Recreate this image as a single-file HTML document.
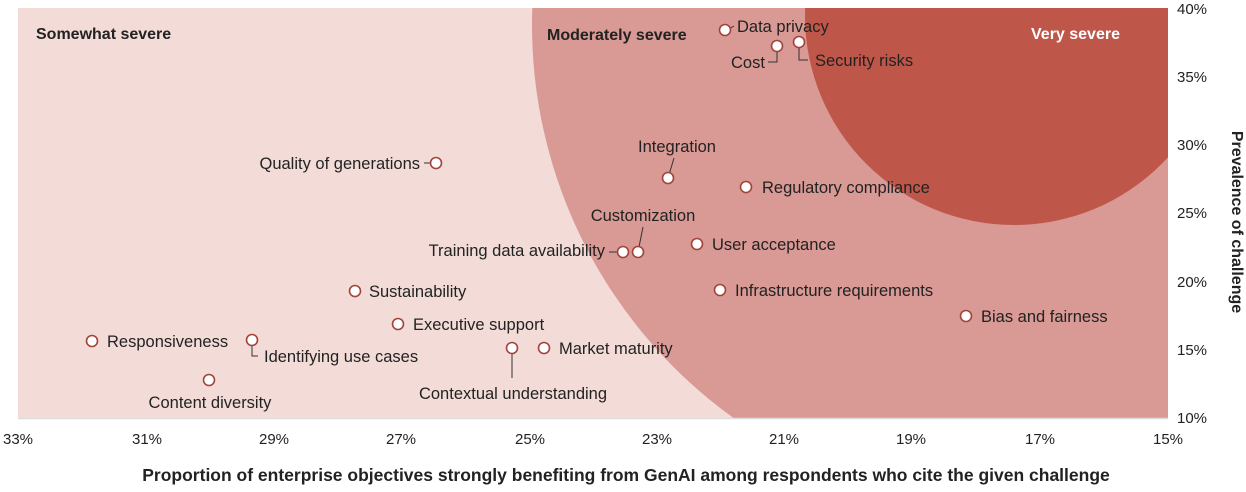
<!DOCTYPE html>
<html><head><style>
body{margin:0;background:#fff;}
svg text{font-family:"Liberation Sans",Arial,sans-serif;fill:#222;}
</style></head><body>
<svg width="1246" height="487" viewBox="0 0 1246 487" xmlns="http://www.w3.org/2000/svg">
<defs><clipPath id="pa"><rect x="18" y="8" width="1150" height="410"/></clipPath></defs>
<rect x="18" y="8" width="1150" height="410" fill="#f3dcd8"/>
<g clip-path="url(#pa)">
<circle cx="1016" cy="25" r="484" fill="#d99994"/>
<circle cx="1014" cy="16" r="209" fill="#be5749"/>
</g>
<line x1="18" y1="418.5" x2="1168" y2="418.5" stroke="#ddd" stroke-width="1.5"/>
<text x="36" y="39" font-size="16" font-weight="bold">Somewhat severe</text>
<text x="547" y="40" font-size="16" font-weight="bold">Moderately severe</text>
<text x="1031" y="39" font-size="16" font-weight="bold" style="fill:#fff">Very severe</text>

<g stroke="#333" stroke-width="1" fill="none">
<path d="M727 30 L734 26"/>
<path d="M777 46 V62 H768"/>
<path d="M799 42 V60 H808"/>
<path d="M430 163 H424"/>
<path d="M668 178 L674 158"/>
<path d="M617 252 H609"/>
<path d="M638 252 L643 227"/>
<path d="M252 340 V356 H258"/>
<path d="M209 380 V386"/>
<path d="M512 348 V378"/>
</g>
<g fill="#fff" stroke="#a2433a" stroke-width="1.6">
<circle cx="725" cy="30" r="5.5"/>
<circle cx="777" cy="46" r="5.5"/>
<circle cx="799" cy="42" r="5.5"/>
<circle cx="436" cy="163" r="5.5"/>
<circle cx="668" cy="178" r="5.5"/>
<circle cx="746" cy="187" r="5.5"/>
<circle cx="623" cy="252" r="5.5"/>
<circle cx="638" cy="252" r="5.5"/>
<circle cx="697" cy="244" r="5.5"/>
<circle cx="720" cy="290" r="5.5"/>
<circle cx="966" cy="316" r="5.5"/>
<circle cx="355" cy="291" r="5.5"/>
<circle cx="398" cy="324" r="5.5"/>
<circle cx="92" cy="341" r="5.5"/>
<circle cx="252" cy="340" r="5.5"/>
<circle cx="209" cy="380" r="5.5"/>
<circle cx="512" cy="348" r="5.5"/>
<circle cx="544" cy="348" r="5.5"/>
</g>
<g font-size="16.5">
<text x="737" y="32">Data privacy</text>
<text x="731" y="68">Cost</text>
<text x="815" y="66">Security risks</text>
<text x="420" y="169" text-anchor="end">Quality of generations</text>
<text x="677" y="152" text-anchor="middle">Integration</text>
<text x="762" y="193">Regulatory compliance</text>
<text x="643" y="221" text-anchor="middle">Customization</text>
<text x="605" y="256" text-anchor="end">Training data availability</text>
<text x="712" y="250">User acceptance</text>
<text x="735" y="296">Infrastructure requirements</text>
<text x="981" y="322">Bias and fairness</text>
<text x="369" y="297">Sustainability</text>
<text x="413" y="330">Executive support</text>
<text x="107" y="347">Responsiveness</text>
<text x="264" y="362">Identifying use cases</text>
<text x="210" y="408" text-anchor="middle">Content diversity</text>
<text x="513" y="399" text-anchor="middle">Contextual understanding</text>
<text x="559" y="354">Market maturity</text>
</g>
<g font-size="15" text-anchor="middle">
<text x="18" y="444">33%</text><text x="147" y="444">31%</text><text x="274" y="444">29%</text>
<text x="401" y="444">27%</text><text x="530" y="444">25%</text><text x="657" y="444">23%</text>
<text x="784" y="444">21%</text><text x="911" y="444">19%</text><text x="1040" y="444">17%</text>
<text x="1168" y="444">15%</text>
</g>
<g font-size="15">
<text x="1177" y="14">40%</text><text x="1177" y="82">35%</text><text x="1177" y="150">30%</text>
<text x="1177" y="218">25%</text><text x="1177" y="287">20%</text><text x="1177" y="355">15%</text>
<text x="1177" y="423">10%</text>
</g>
<text x="626" y="481" font-size="17.5" font-weight="bold" text-anchor="middle">Proportion of enterprise objectives strongly benefiting from GenAI among respondents who cite the given challenge</text>
<text transform="translate(1232,222) rotate(90)" font-size="16" font-weight="bold" text-anchor="middle">Prevalence of challenge</text>
</svg>
</body></html>
